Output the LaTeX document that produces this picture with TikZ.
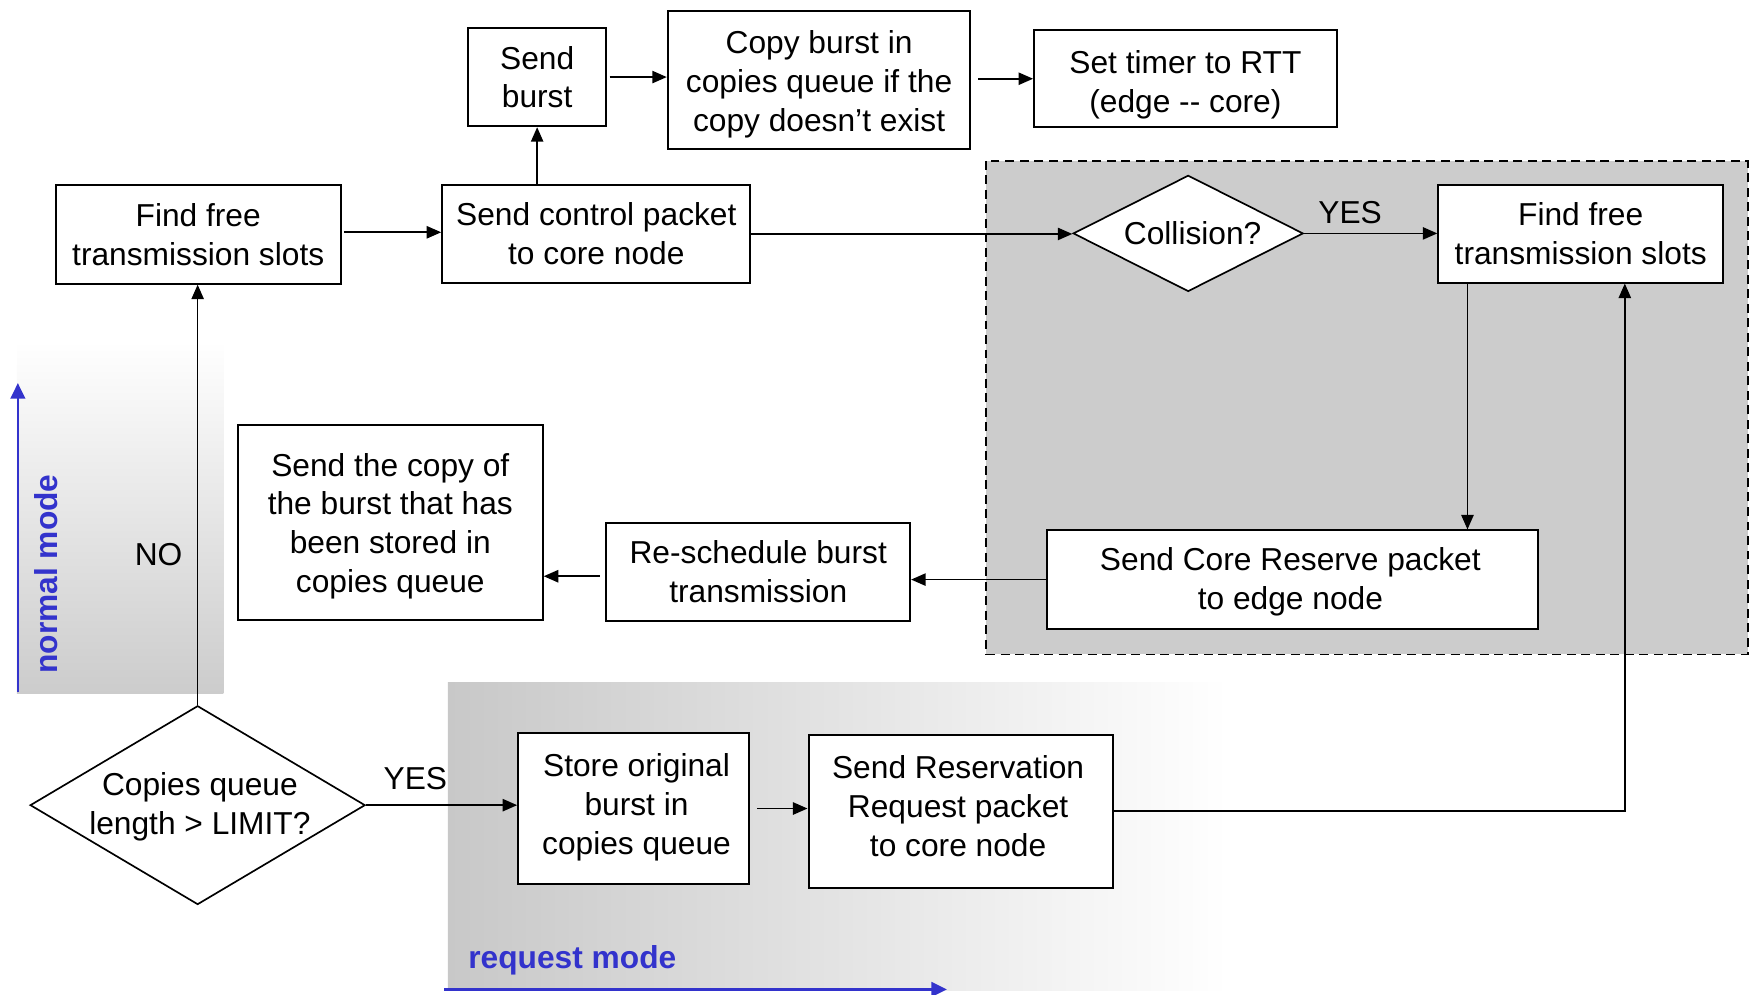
\documentclass[tikz,border=0pt]{standalone}
\usepackage{fontspec}
\setmainfont{Liberation Sans}
\usetikzlibrary{arrows.meta,shapes.geometric,calc}
\definecolor{modeblue}{HTML}{3333CC}
\definecolor{panelgray}{HTML}{CCCCCC}
\definecolor{gradgray}{HTML}{C8C8C8}
\begin{document}
\begin{tikzpicture}[x=0.5pt,y=-0.5pt,
  font=\fontsize{14.2pt}{17.3pt}\selectfont,
  box/.style={draw, line width=0.9pt, fill=white, align=center, inner sep=0pt},
  dia/.style={draw, diamond, line width=0.75pt, fill=white, inner sep=0pt},
  arr/.style={line width=0.75pt, -{Triangle[length=6.5pt,width=5.5pt]}},
  modearr/.style={draw=modeblue, line width=1.2pt, -{Triangle[length=7pt,width=6.5pt]}},
  modetext/.style={text=modeblue, font=\fontsize{14.2pt}{17pt}\selectfont\bfseries},
  lbl/.style={align=center, inner sep=0pt}
]
\useasboundingbox (0,0) rectangle (1568,891);
% backgrounds
\shade[top color=white, bottom color=panelgray] (15,305) rectangle (200,621);
\shade[left color=gradgray, right color=white] (401,611) rectangle (1100,887);
\draw[fill=panelgray, line width=0.75pt, dash pattern=on 4pt off 2.5pt] (883,144) rectangle (1565,586);
% nodes
\node[box, minimum width=62pt, minimum height=44pt] (sb) at (481,69) {Send\\burst};
\node[box, minimum width=135.5pt, minimum height=61.5pt] (cb) at (733.5,71.5) {};
\node[lbl] (cbt) at (733.5,75.5) {Copy burst in\\copies queue if the\\copy doesn’t exist};
\node[box, minimum width=135.5pt, minimum height=43.5pt] (st) at (1061.5,70.5) {};
\node[lbl] (stt) at (1061.5,76) {Set timer to RTT\\(edge -{}- core)};
\node[box, minimum width=127.5pt, minimum height=44pt] (fl) at (177.5,210) {Find free\\transmission slots};
\node[box, minimum width=138pt, minimum height=43.5pt] (sc) at (534,209.5) {Send control packet\\to core node};
\node[dia, minimum width=103pt, minimum height=52pt] (col) at (1064,209) {};
\node[lbl] (colt) at (1068,209) {Collision?};
\node[box, minimum width=127.5pt, minimum height=43.5pt] (fr) at (1415.5,209.5) {Find free\\transmission slots};
\node[box, minimum width=219.5pt, minimum height=44pt] (cr) at (1157.5,519) {};
\node[lbl] (crt) at (1155.5,521) {Send Core Reserve packet\\to edge node};
\node[box, minimum width=136pt, minimum height=44pt] (rs) at (679,512) {Re-schedule burst\\transmission};
\node[box, minimum width=136.5pt, minimum height=87pt] (cp) at (349.5,468) {};
\node[lbl] (cpt) at (349.5,471) {Send the copy of\\the burst that has\\been stored in\\copies queue};
\node[dia, minimum width=150pt, minimum height=89pt] (cq) at (177,721) {};
\node[lbl] (cqt) at (179,722.5) {Copies queue\\length > LIMIT?};
\node[box, minimum width=103.5pt, minimum height=68pt] (so) at (567.5,724) {};
\node[lbl] (sot) at (570,723) {Store original\\burst in\\copies queue};
\node[box, minimum width=136.5pt, minimum height=68.5pt] (rr) at (860.5,726.5) {};
\node[lbl] (rrt) at (858,722) {Send Reservation\\Request packet\\to core node};
% labels
\node[lbl] (no) at (142,497) {NO};
\node[lbl] (yes1) at (1209,190) {YES};
\node[lbl] (yes2) at (372,697) {YES};
\node[modetext, rotate=90, inner sep=0pt] (nm) at (41,514) {normal mode};
\node[modetext, anchor=west, inner sep=0pt] (rm) at (419,860) {request mode};
\coordinate (nmA) at (16,620);
\coordinate (nmB) at (16,343);
\coordinate (rmA) at (398,886);
\coordinate (rmB) at (848,886);
\draw[modearr] (nmA) -- (nmB);
\draw[modearr] (rmA) -- (rmB);
% connectors
\draw[arr] ([xshift=1pt,yshift=1pt]fl.east) -- ([yshift=1pt]fl.east -| sc.west);
\draw[arr] (sc.north -| sb.south) -- (sb.south);
\draw[arr] ([xshift=1pt]sb.east) -- (sb.east -| cb.west);
\draw[arr] ([xshift=3pt]cb.east |- st.west) -- (st.west);
\draw[arr] (sc.east) -- (sc.east -| col.west);
\draw[arr] (col.east) -- (col.east -| fr.west);
\draw[arr] ([xshift=13.5pt]fr.south west) -- ([xshift=13.5pt]fr.south west |- cr.north);
\draw[arr] (cr.west) -- (cr.west -| rs.east);
\draw[arr] ([xshift=-2.5pt,yshift=-2pt]rs.west) -- ([yshift=-2pt]rs.west -| cp.east);
\draw[arr] (cq.north) -- (cq.north |- fl.south);
\draw[arr] (cq.east) -- (cq.east -| so.west);
\draw[arr] ([xshift=3pt]so.east) -- (so.east -| rr.west);
\draw[arr] (rr.east) -| ([xshift=19.75pt]fr.south);
\end{tikzpicture}
\end{document}
